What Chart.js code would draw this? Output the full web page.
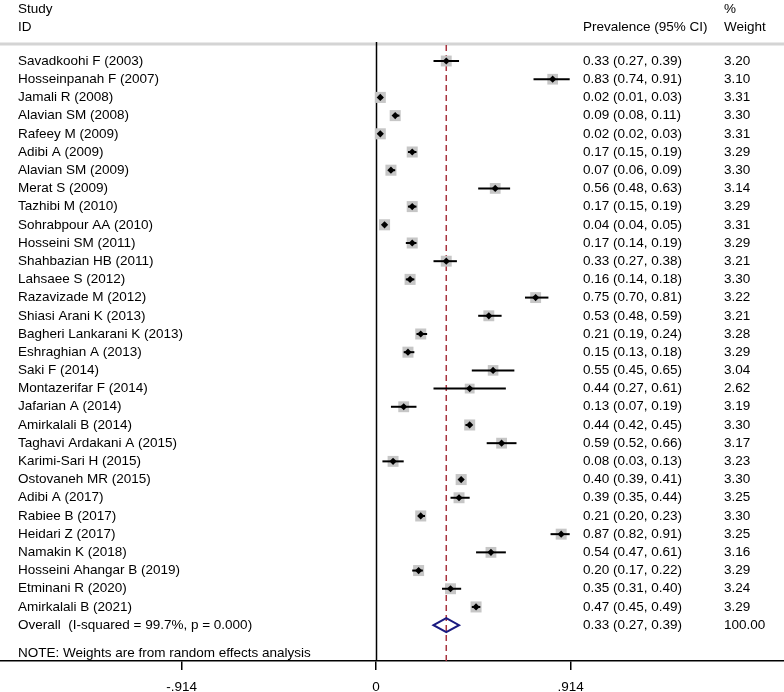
<!DOCTYPE html>
<html>
<head>
<meta charset="utf-8">
<script src="https://cdn.jsdelivr.net/npm/chart.js@4.4.0/dist/chart.umd.min.js"></script>
<style>
  html, body { margin: 0; padding: 0; background: #fff; }
  #wrap { width: 784px; height: 692px; position: relative; }
</style>
</head>
<body>
<div id="wrap"><canvas id="forest"></canvas></div>
<script>
// Study data
const studies = [
  "Savadkoohi F (2003)", "Hosseinpanah F (2007)", "Jamali R (2008)", "Alavian SM (2008)",
  "Rafeey M (2009)", "Adibi A (2009)", "Alavian SM (2009)", "Merat S (2009)",
  "Tazhibi M (2010)", "Sohrabpour AA (2010)", "Hosseini SM (2011)", "Shahbazian HB (2011)",
  "Lahsaee S (2012)", "Razavizade M (2012)", "Shiasi Arani K (2013)", "Bagheri Lankarani K (2013)",
  "Eshraghian A (2013)", "Saki F (2014)", "Montazerifar F (2014)", "Jafarian A (2014)",
  "Amirkalali B (2014)", "Taghavi Ardakani A (2015)", "Karimi-Sari H (2015)", "Ostovaneh MR (2015)",
  "Adibi A (2017)", "Rabiee B (2017)", "Heidari Z (2017)", "Namakin K (2018)",
  "Hosseini Ahangar B (2019)", "Etminani R (2020)", "Amirkalali B (2021)"
];
const prevalence = [0.33, 0.83, 0.02, 0.09, 0.02, 0.17, 0.07, 0.56, 0.17, 0.04, 0.17, 0.33, 0.16, 0.75, 0.53, 0.21,
  0.15, 0.55, 0.44, 0.13, 0.44, 0.59, 0.08, 0.40, 0.39, 0.21, 0.87, 0.54, 0.20, 0.35, 0.47];
const lowerCI = [0.27, 0.74, 0.01, 0.08, 0.02, 0.15, 0.06, 0.48, 0.15, 0.04, 0.14, 0.27, 0.14, 0.70, 0.48, 0.19,
  0.13, 0.45, 0.27, 0.07, 0.42, 0.52, 0.03, 0.39, 0.35, 0.20, 0.82, 0.47, 0.17, 0.31, 0.45];
const upperCI = [0.39, 0.91, 0.03, 0.11, 0.03, 0.19, 0.09, 0.63, 0.19, 0.05, 0.19, 0.38, 0.18, 0.81, 0.59, 0.24,
  0.18, 0.65, 0.61, 0.19, 0.45, 0.66, 0.13, 0.41, 0.44, 0.23, 0.91, 0.61, 0.22, 0.40, 0.49];
const weights = [3.20, 3.10, 3.31, 3.30, 3.31, 3.29, 3.30, 3.14, 3.29, 3.31, 3.29, 3.21, 3.30, 3.22, 3.21, 3.28,
  3.29, 3.04, 2.62, 3.19, 3.30, 3.17, 3.23, 3.30, 3.25, 3.30, 3.25, 3.16, 3.29, 3.24, 3.29];

const overallLabel = "Overall  (I-squared = 99.7%, p = 0.000)";
const overallEstimate = [0.33, 0.27, 0.39]; // estimate, lower, upper
const overallWeight = 100.00;

const xTickValues = [-0.914, 0, 0.914];
const xTickLabels = ["-.914", "0", ".914"];

const noteText = "NOTE: Weights are from random effects analysis";

const FONT = '13.5px "Liberation Sans", Arial, sans-serif';
const rowOverall = studies.length;

// Build point data
const pointData = prevalence.map((v, i) => ({ x: v, y: i }));
const squareSizes = weights.map((w) => 7.8 * Math.sqrt(w / 3.3));

// Draws CI lines after the grey squares, before the black diamonds
const ciPlugin = {
  id: "ciLines",
  afterDatasetDraw(chart, args) {
    if (args.index !== 1) return;
    const ctx = chart.ctx;
    const xs = chart.scales.x;
    const ys = chart.scales.y;
    ctx.save();
    ctx.strokeStyle = "#000";
    ctx.lineWidth = 2;
    for (let i = 0; i < studies.length; i++) {
      const y = ys.getPixelForValue(i);
      ctx.beginPath();
      ctx.moveTo(xs.getPixelForValue(lowerCI[i]), y);
      ctx.lineTo(xs.getPixelForValue(upperCI[i]), y);
      ctx.stroke();
    }
    ctx.restore();
  }
};

// Reference lines, overall diamond and all text columns
const forestPlugin = {
  id: "forestDecor",
  beforeDatasetsDraw(chart) {
    const ctx = chart.ctx;
    const xs = chart.scales.x;
    const area = chart.chartArea;
    ctx.save();
    // grey header rule
    ctx.strokeStyle = "#d4d4d4";
    ctx.lineWidth = 3;
    ctx.beginPath();
    ctx.moveTo(0, area.top - 1);
    ctx.lineTo(chart.width, area.top - 1);
    ctx.stroke();
    // null line
    ctx.strokeStyle = "#000";
    ctx.lineWidth = 1.5;
    const x0 = Math.round(xs.getPixelForValue(0)) + 0.5;
    ctx.beginPath();
    ctx.moveTo(x0, area.top - 3);
    ctx.lineTo(x0, area.bottom);
    ctx.stroke();
    // overall estimate dashed line
    ctx.strokeStyle = "#a8323e";
    ctx.lineWidth = 1.5;
    ctx.setLineDash([6, 4]);
    const xe = xs.getPixelForValue(overallEstimate[0]);
    ctx.beginPath();
    ctx.moveTo(xe, area.top);
    ctx.lineTo(xe, area.bottom);
    ctx.stroke();
    ctx.restore();
  },
  afterDatasetsDraw(chart) {
    const ctx = chart.ctx;
    const xs = chart.scales.x;
    const ys = chart.scales.y;
    ctx.save();
    // overall diamond
    const yo = ys.getPixelForValue(rowOverall);
    ctx.strokeStyle = "#1a1a80";
    ctx.lineWidth = 2;
    ctx.beginPath();
    ctx.moveTo(xs.getPixelForValue(overallEstimate[1]), yo);
    ctx.lineTo(xs.getPixelForValue(overallEstimate[0]), yo - 7);
    ctx.lineTo(xs.getPixelForValue(overallEstimate[2]), yo);
    ctx.lineTo(xs.getPixelForValue(overallEstimate[0]), yo + 7);
    ctx.closePath();
    ctx.stroke();

    // text
    ctx.fillStyle = "#000";
    ctx.font = FONT;
    ctx.textBaseline = "middle";
    ctx.textAlign = "left";
    const colLabel = 18, colCI = 583, colW = 724;
    ctx.fillText("Study", colLabel, 9);
    ctx.fillText("ID", colLabel, 27);
    ctx.fillText("Prevalence (95% CI)", colCI, 27);
    ctx.fillText("%", colW, 9);
    ctx.fillText("Weight", colW, 27);
    for (let i = 0; i < studies.length; i++) {
      const y = ys.getPixelForValue(i);
      ctx.fillText(studies[i], colLabel, y);
      ctx.fillText(prevalence[i].toFixed(2) + " (" + lowerCI[i].toFixed(2) + ", " + upperCI[i].toFixed(2) + ")", colCI, y);
      ctx.fillText(weights[i].toFixed(2), colW, y);
    }
    ctx.fillText(overallLabel, colLabel, yo);
    ctx.fillText(overallEstimate[0].toFixed(2) + " (" + overallEstimate[1].toFixed(2) + ", " + overallEstimate[2].toFixed(2) + ")", colCI, yo);
    ctx.fillText(overallWeight.toFixed(2), colW, yo);
    ctx.fillText(noteText, colLabel, ys.getPixelForValue(rowOverall + 1.55));
    ctx.restore();
  }
};

const ctx = document.getElementById("forest");
new Chart(ctx, {
  type: "scatter",
  data: {
    datasets: [
      {
        label: "Estimate",
        data: pointData,
        order: 1,
        pointStyle: "rectRot",
        pointRadius: 3.6,
        backgroundColor: "#000",
        borderColor: "#000",
        borderWidth: 0
      },
      {
        label: "Weight",
        data: pointData,
        order: 2,
        pointStyle: "rect",
        pointRadius: squareSizes,
        backgroundColor: "#c6c6c6",
        borderColor: "#c6c6c6",
        borderWidth: 0
      }
    ]
  },
  options: {
    responsive: true,
    maintainAspectRatio: false,
    animation: false,
    layout: { autoPadding: false, padding: { top: 45, left: 0, right: 0, bottom: 0 } },
    plugins: {
      legend: { display: false },
      tooltip: { enabled: false }
    },
    scales: {
      x: {
        type: "linear",
        min: -1.767,
        max: 1.917,
        afterBuildTicks: (scale) => {
          scale.ticks = xTickValues.map((v) => ({ value: v }));
        },
        afterFit: (scale) => {
          scale.height = 31;
        },
        ticks: {
          autoSkip: false,
          maxRotation: 0,
          padding: 9,
          color: "#000",
          font: { family: '"Liberation Sans", Arial, sans-serif', size: 13.5 },
          callback: (value) => xTickLabels[xTickValues.indexOf(value)]
        },
        grid: {
          drawOnChartArea: false,
          drawTicks: true,
          tickLength: 9,
          color: "#000",
          lineWidth: 1.5
        },
        border: { display: true, color: "#000", width: 1.5 }
      },
      y: {
        type: "linear",
        display: false,
        reverse: true,
        min: -0.88,
        max: 32.97
      }
    }
  },
  plugins: [ciPlugin, forestPlugin]
});
</script>
</body>
</html>
